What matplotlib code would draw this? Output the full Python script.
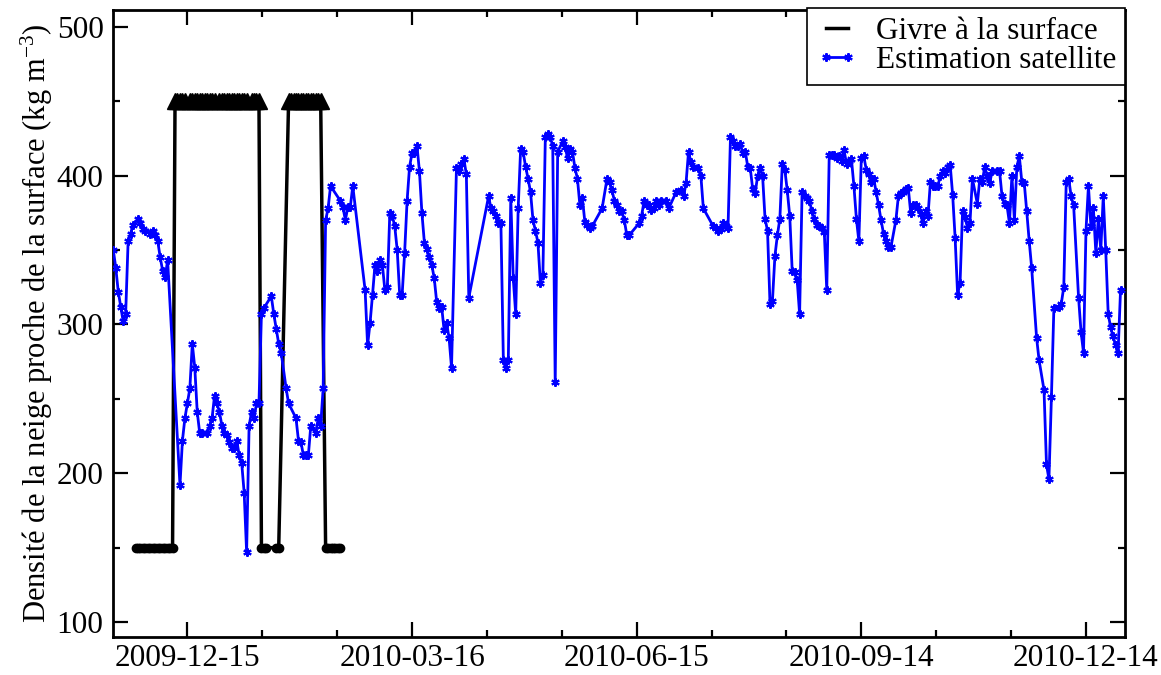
import datetime as dt

import matplotlib
matplotlib.use('Agg')
import matplotlib.pyplot as plt
import matplotlib.dates as mdates
from matplotlib.ticker import FixedLocator, MultipleLocator
import numpy as np


# day 0 of the record
start = dt.datetime(2009, 11, 15)

# surface frost observations (days since start, 150 = none, 450 = frost)
frost_day = [9, 10, 11, 12, 13, 14, 15, 16, 17, 18, 19, 20, 21, 22, 23, 24,
             25, 26, 27, 28, 29, 31, 32, 33, 34, 35, 36, 37, 38, 39, 40, 41,
             43, 44, 45, 46, 47, 48, 49, 50, 51, 52, 53, 54, 56, 57, 58, 59,
             60, 61, 62, 66, 67,
             71, 72, 73, 74, 75, 76, 77, 78, 79, 80, 81, 82, 83, 84,
             86, 87, 88, 89, 90, 91, 92]
frost_val = [150, 150, 150, 150, 150, 150, 150, 150, 150, 150, 150, 150, 150, 150, 150, 150,
             450, 450, 450, 450, 450, 450, 450, 450, 450, 450, 450, 450, 450, 450, 450, 450,
             450, 450, 450, 450, 450, 450, 450, 450, 450, 450, 450, 450, 450, 450, 450, 450,
             150, 150, 150, 150, 150,
             450, 450, 450, 450, 450, 450, 450, 450, 450, 450, 450, 450, 450, 450,
             150, 150, 150, 150, 150, 150, 150]

# satellite estimate (days since start, kg m-3)
sat_day = [0, 1, 2, 3, 4, 5, 6, 7, 8, 10, 11, 12, 13, 15, 16, 17, 18, 19, 20, 21, 22,
           27, 28, 29, 30, 31, 32, 33, 34, 35, 36, 38, 39, 40, 41, 42, 43, 44, 45, 46, 47,
           48, 49, 50, 51, 52, 53, 54, 55, 56, 57, 58, 59,
           60, 61, 64, 65, 66, 67, 68, 70, 71, 74, 75, 76, 77, 78, 79, 80, 82, 83, 84, 85,
           86, 87, 88, 92, 93, 94, 95, 96, 97,
           102, 103, 104, 105, 106, 107, 108, 109, 110, 111, 112, 113, 114, 115, 116, 117,
           118, 119, 120, 121, 122, 123, 124, 125, 126, 127, 128, 129, 130, 131, 132, 133,
           134, 135, 136, 137, 139, 140, 141, 142, 143, 144,
           152, 153, 154, 155, 156, 157, 158, 159, 160, 161, 162, 163, 164, 165, 166, 167,
           168, 169, 170, 171, 172, 173, 174, 175, 176, 177, 178, 179, 180, 182, 183, 184,
           185, 186, 187, 188, 189, 190, 191, 192, 193, 194,
           198, 200, 201, 202, 203, 204, 205, 206, 207, 208, 209, 213, 214, 215, 216, 217,
           218, 219, 220, 221, 222, 224, 225, 228, 230, 231, 232, 233, 234, 235, 237, 238, 239,
           243, 244, 245, 246, 247, 248, 249, 250, 251, 252, 253, 254, 255, 256, 257, 258,
           259, 260, 261, 262, 263, 264, 265, 266, 267, 268, 269, 270, 271, 272, 273, 274,
           275, 276, 277, 278, 279, 280, 281, 282, 283, 284, 285, 286, 287, 288, 289, 290,
           291, 292, 293, 294, 295, 296, 297, 298, 299, 300, 301, 302, 303, 304, 305, 306,
           307, 308, 309, 310, 311, 312, 313, 314, 315,
           317, 318, 319, 320, 321, 322, 323, 324, 325, 326, 327, 328, 329, 330, 331, 332,
           333, 334, 335, 336, 337, 338, 339, 340, 341, 342, 343, 344, 345, 346, 347, 348,
           350, 351, 352, 353, 354, 355, 356, 358, 359, 360, 361, 362, 363, 364, 365, 366,
           367, 368, 369, 370, 371, 372, 374, 375, 377, 378, 379, 380, 381, 383, 384, 385,
           386, 387, 388, 389, 391, 392, 393, 394, 395, 396, 397, 398, 399, 400, 401, 402,
           403, 404, 405, 406, 407, 408]
sat_val = [350, 338, 322, 312, 302, 307, 356, 361, 367, 371, 368, 364, 363, 361, 363, 360, 356, 345, 336, 332, 343,
           192, 222, 237, 247, 257, 287, 271, 241, 227, 227, 227, 232, 237, 252, 247, 241, 232, 227, 226, 221,
           217, 217, 222, 212, 207, 187, 147, 232, 241, 237, 247, 247,
           307, 311, 319, 307, 297, 287, 281, 257, 247, 237, 222, 221, 212, 212, 212, 232, 227, 237, 232, 257,
           370, 378, 393, 383, 379, 370, 379, 379, 393,
           323, 286, 301, 320, 340, 336, 343, 340, 323, 325, 375, 373, 366, 350, 320, 320,
           348, 383, 406, 415, 415, 420, 403, 375, 355, 351, 345, 340, 331, 315, 311, 312,
           296, 301, 291, 271, 405, 403, 408, 411, 401, 318,
           386, 378, 376, 373, 368, 368, 276, 271, 276, 385, 331, 307, 378, 418, 416, 406,
           398, 389, 370, 363, 355, 328, 333, 426, 428, 426, 420, 261, 416, 423, 419, 412,
           418, 416, 405, 398, 380, 385, 369, 367, 365, 366,
           378, 398, 396, 390, 383, 380, 376, 376, 370, 360, 360, 368, 373, 383, 380, 380,
           377, 378, 383, 380, 383, 383, 378, 389, 390, 386, 395, 416, 409, 406, 405, 400, 378,
           366, 365, 363, 364, 368, 366, 365, 426, 423, 420, 420, 421, 415, 416, 406, 405,
           391, 388, 400, 405, 400, 371, 363, 314, 316, 346, 360, 371, 408, 404, 390, 373,
           336, 335, 330, 307, 389, 386, 385, 383, 376, 371, 367, 366, 365, 362, 323, 414,
           414, 414, 412, 413, 410, 417, 408, 410, 411, 393, 371, 356, 412, 413, 404, 401,
           396, 398, 389, 380, 370, 361, 356, 352, 352,
           370, 386, 388, 389, 391, 392, 375, 380, 380, 378, 374, 368, 376, 373, 396, 393,
           393, 393, 400, 403, 402, 406, 407, 387, 358, 320, 328, 376, 372, 365, 368, 398,
           381, 398, 396, 406, 400, 395, 403, 403, 403, 386, 381, 380, 368, 400, 370, 406,
           413, 396, 395, 376, 356, 338, 291, 276, 256, 206, 196, 251, 311, 312, 314, 325,
           396, 398, 386, 380, 318, 295, 281, 363, 393, 366, 378, 348, 371, 350, 386, 350,
           307, 298, 292, 286, 281, 323]

tick_dates = ['2009-12-15', '2010-03-16', '2010-06-15', '2010-09-14', '2010-12-14']


plt.rcParams['font.family'] = ['Liberation Serif', 'DejaVu Serif']
plt.rcParams['mathtext.fontset'] = 'custom'
plt.rcParams['mathtext.rm'] = 'Liberation Serif'
plt.rcParams['mathtext.it'] = 'Liberation Serif:italic'

base = mdates.date2num(start)
fx = base + np.array(frost_day)
fv = np.array(frost_val)
sx = base + np.array(sat_day)
sv = np.array(sat_val)

fig = plt.figure(figsize=(11.61, 6.75), dpi=100)
ax = fig.add_axes([0.0976, 0.0563, 0.8718, 0.9283])

# frost line + markers (triangle = frost, circle = none)
ax.plot(fx, fv, color='black', lw=2.5, label='Givre à la surface', zorder=2)
ax.plot(fx[fv > 300], fv[fv > 300], ls='none', marker='^', ms=11, color='black', zorder=2)
ax.plot(fx[fv < 300], fv[fv < 300], ls='none', marker='o', ms=6, color='black', zorder=2)

# satellite
ax.plot(sx, sv, color='#0000ff', lw=2, marker=(6, 2, 0), ms=6, mew=1.5,
        label='Estimation satellite', zorder=3)

ax.set_xlim(base, base + 410)
ax.set_ylim(90, 511)

majors = [mdates.date2num(dt.datetime.strptime(d, '%Y-%m-%d')) for d in tick_dates]
minors = [m + 91 / 3 * k for m in [majors[0] - 91] + majors for k in (1, 2)]
ax.xaxis.set_major_locator(FixedLocator(majors))
ax.xaxis.set_minor_locator(FixedLocator(minors))
ax.xaxis.set_major_formatter(mdates.DateFormatter('%Y-%m-%d'))
ax.yaxis.set_major_locator(MultipleLocator(100))
ax.yaxis.set_minor_locator(MultipleLocator(50))

ax.tick_params(which='both', direction='in', top=True, right=True, width=1.6, labelsize=22.5)
ax.tick_params(which='major', length=11)
ax.tick_params(which='minor', length=5)
ax.tick_params(axis='x', pad=5)
ax.tick_params(axis='y', pad=7)
for s in ax.spines.values():
    s.set_linewidth(2)

ax.set_ylabel('Densité de la neige proche de la surface (kg m$^{-3}$)', fontsize=22, labelpad=1)

leg = ax.legend(loc='upper right', bbox_to_anchor=(1.0, 1.004), borderaxespad=0,
                fontsize=22.5, numpoints=2, handlelength=1.3, handletextpad=0.6,
                borderpad=0.3, labelspacing=0.0, fancybox=False, framealpha=1)
leg.get_frame().set_edgecolor('black')
leg.get_frame().set_linewidth(1.2)

fig.savefig('out.png', dpi=100)
